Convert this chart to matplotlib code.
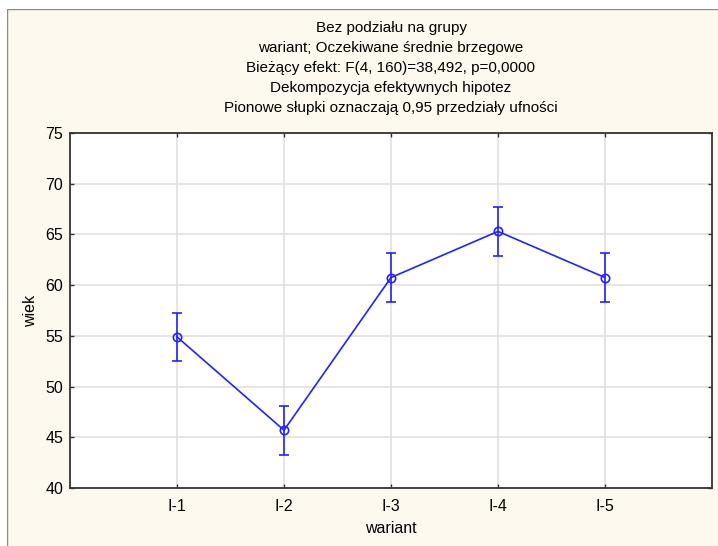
import matplotlib.pyplot as plt
from matplotlib.patches import Rectangle

plt.rcParams["font.family"] = ["Liberation Sans", "DejaVu Sans"]

# Marginal means of "wiek" per variant, with 0.95 confidence half-widths
categories = ["I-1", "I-2", "I-3", "I-4", "I-5"]
means = [54.9, 45.7, 60.75, 65.3, 60.75]
ci_half = [2.4, 2.4, 2.4, 2.4, 2.4]

title_lines = [
    "Bez podziału na grupy",
    "wariant; Oczekiwane średnie brzegowe",
    "Bieżący efekt: F(4, 160)=38,492, p=0,0000",
    "Dekompozycja efektywnych hipotez",
    "Pionowe słupki oznaczają 0,95 przedziały ufności",
]

BG = "#fef9ee"
LINE_BLUE = "#2222ff"

W, H = 718, 546
fig = plt.figure(figsize=(W / 100, H / 100), dpi=100)
fig.patch.set_facecolor(BG)

# white strips on the top and left, with a thin grey frame line
fig.patches.append(Rectangle((0, 1 - 9 / H), 1, 9 / H, transform=fig.transFigure,
                             facecolor="white", edgecolor="none", zorder=-1))
fig.patches.append(Rectangle((0, 0), 7 / W, 1, transform=fig.transFigure,
                             facecolor="white", edgecolor="none", zorder=-1))
fig.add_artist(plt.Line2D([7 / W, 1], [1 - 9 / H, 1 - 9 / H], transform=fig.transFigure,
                          color="#8a8a8a", lw=1, zorder=-1))
fig.add_artist(plt.Line2D([7 / W, 7 / W], [0, 1 - 9 / H], transform=fig.transFigure,
                          color="#8a8a8a", lw=1, zorder=-1))

left, right, top, bottom = 70, 712, 133, 488
ax = fig.add_axes([left / W, 1 - bottom / H, (right - left) / W, (bottom - top) / H])
ax.set_facecolor("white")

x = list(range(1, len(categories) + 1))
ax.errorbar(x, means, yerr=ci_half, color=LINE_BLUE, lw=1.2, elinewidth=1.2,
            capsize=3.6, capthick=1.2, marker="o", markersize=6,
            markerfacecolor="none", markeredgecolor=LINE_BLUE, markeredgewidth=1.2,
            zorder=3)

ax.set_xlim(0, 6)
ax.set_ylim(40, 75)
ax.set_xticks(x)
ax.set_xticklabels(categories)
ax.set_yticks(range(40, 76, 5))
ax.grid(True, color="#e0e0e0", lw=1.2, zorder=0)
ax.set_axisbelow(True)

ax.tick_params(axis="both", direction="in", length=3, width=1, color="#333333",
               labelsize=11.5, top=True, right=True, labeltop=False, labelright=False)
ax.tick_params(axis="x", pad=8)
ax.tick_params(axis="y", pad=5)
for s in ax.spines.values():
    s.set_color("#333333")
    s.set_linewidth(1.3)

ax.set_xlabel("wariant", fontsize=11.5, labelpad=5)
ax.set_ylabel("wiek", fontsize=11.5, labelpad=5)

for i, line in enumerate(title_lines):
    y_px = 28 + i * 20
    fig.text(391 / W, 1 - y_px / H, line, ha="center", va="center", fontsize=11)

fig.savefig("out.png", dpi=100, facecolor=fig.get_facecolor())
